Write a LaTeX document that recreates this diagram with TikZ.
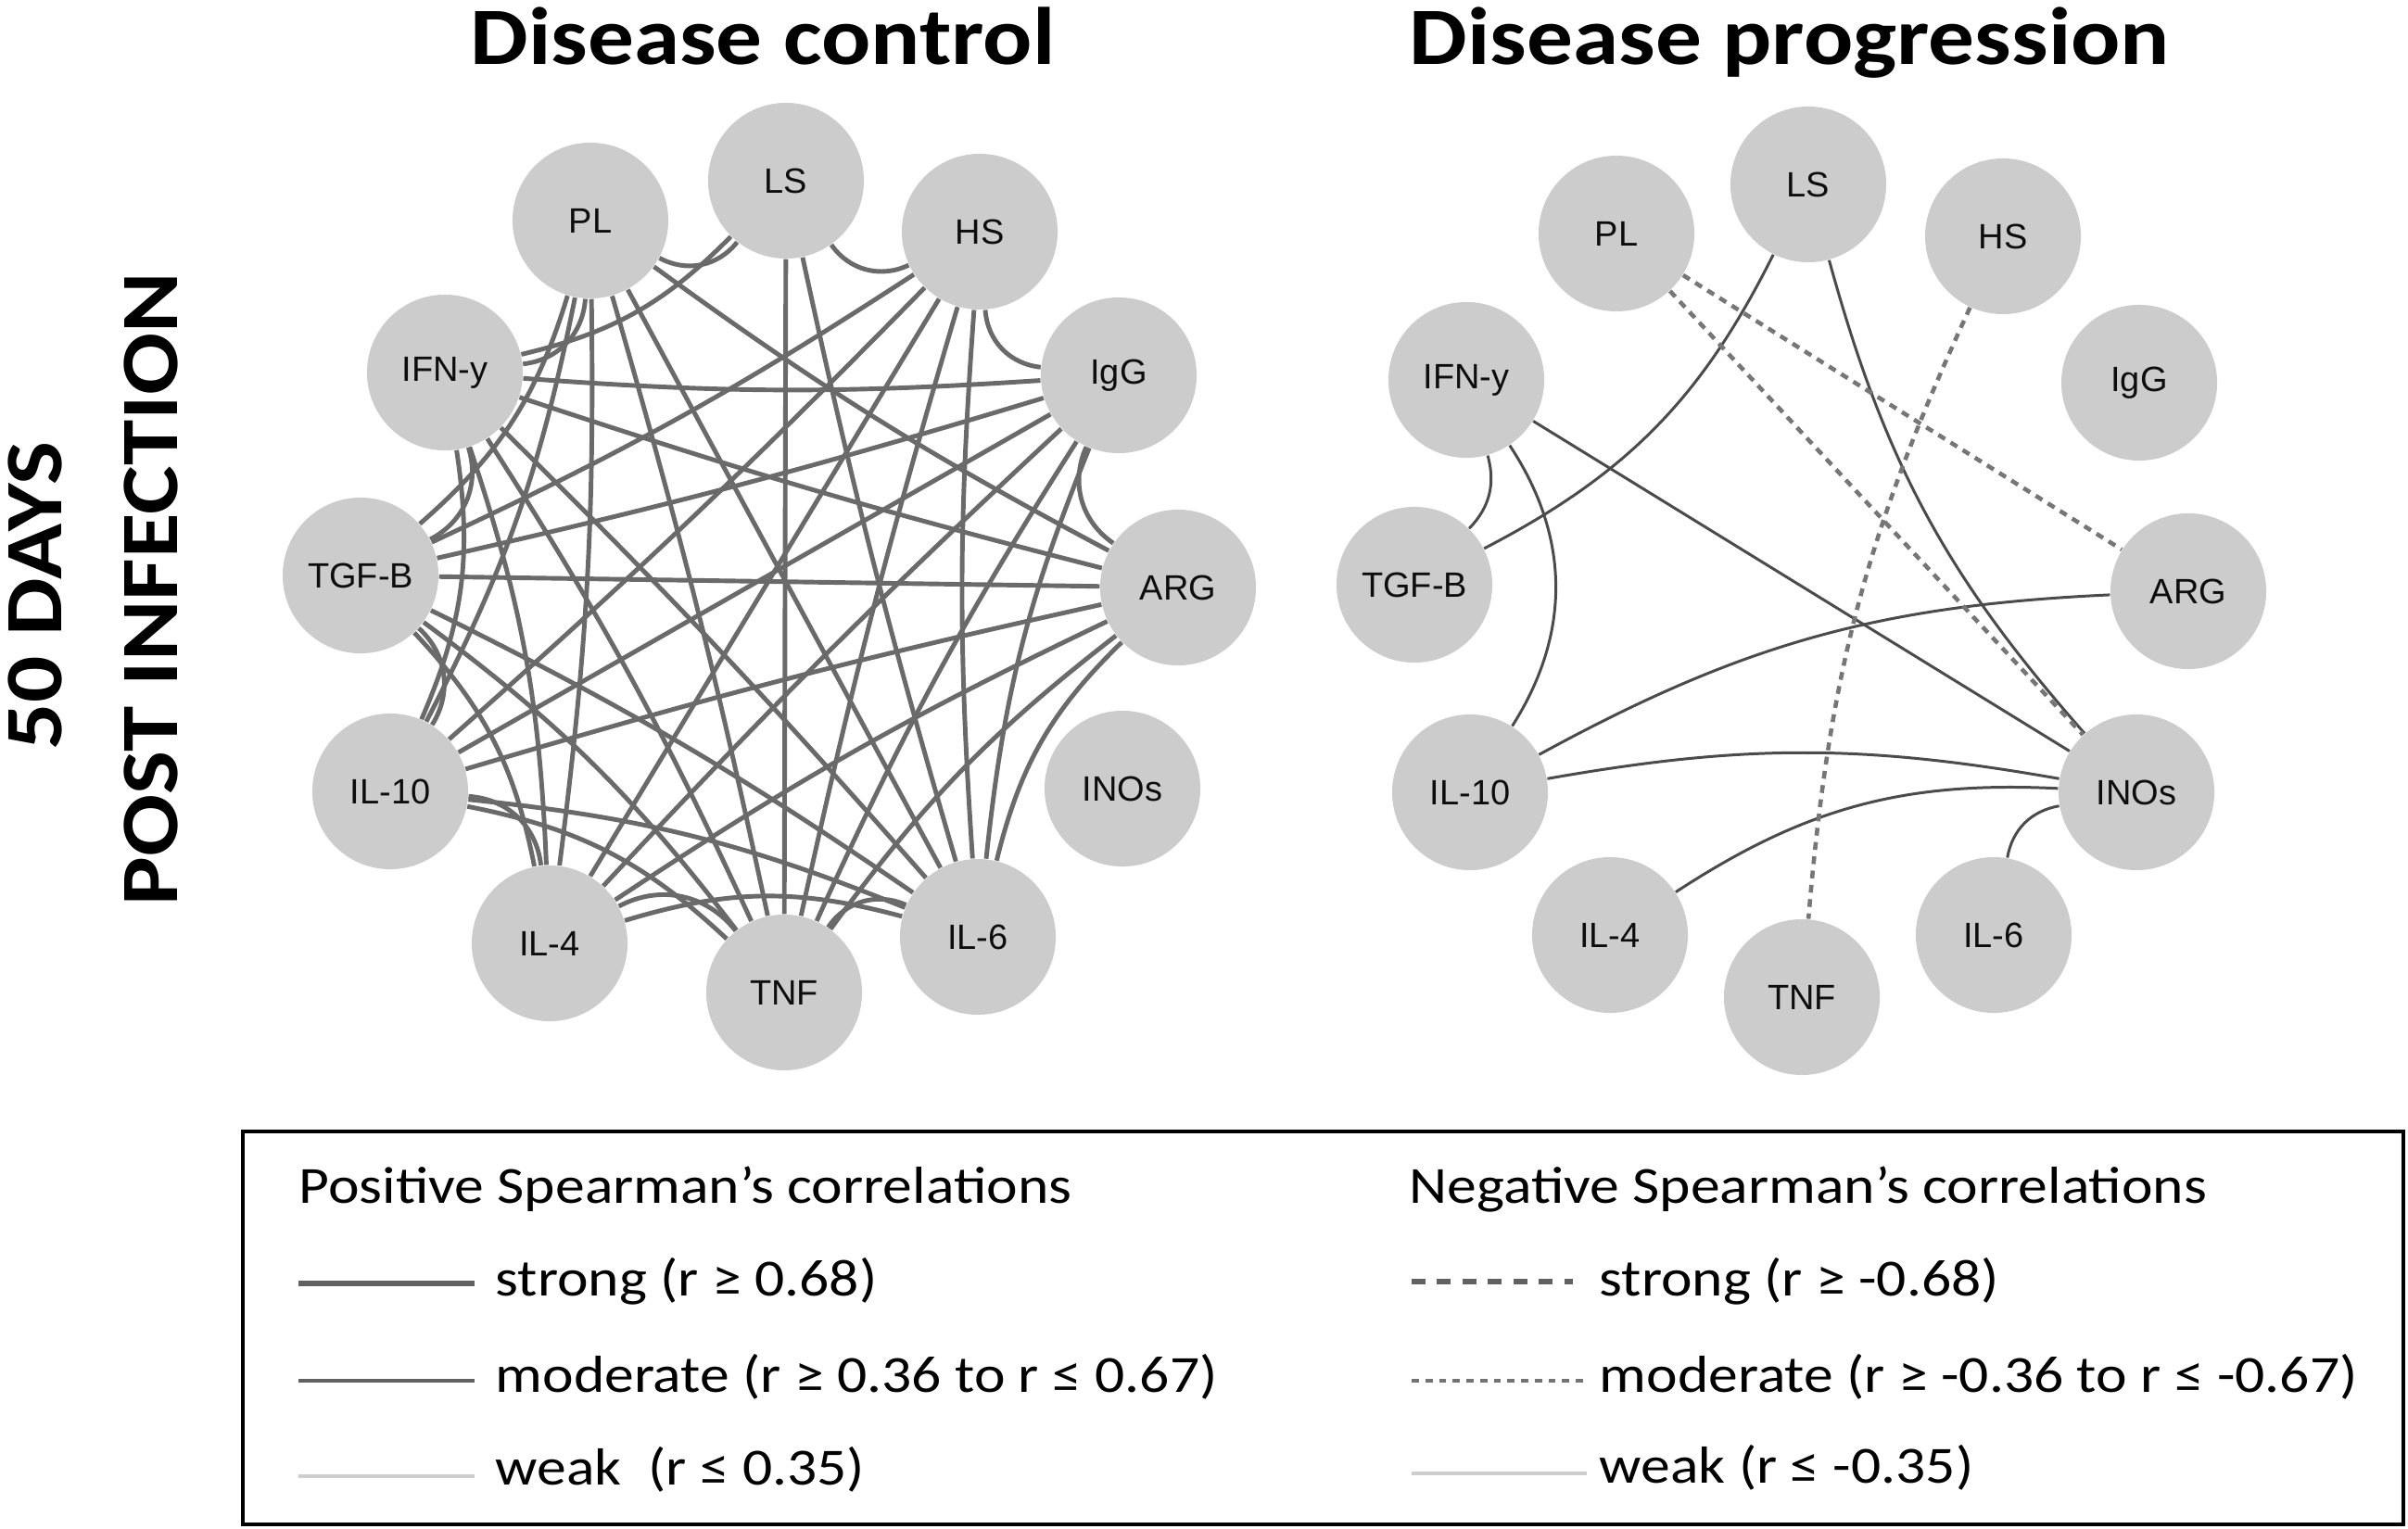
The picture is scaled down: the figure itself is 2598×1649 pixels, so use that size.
\documentclass[tikz,border=0pt]{standalone}
\usepackage{fontspec}
\setmainfont{Carlito}[FakeStretch=1.13]
\newfontfamily\arialf{Liberation Sans}
\definecolor{nodegray}{RGB}{204,204,204}
\definecolor{edgegray}{RGB}{106,106,106}
\definecolor{darkedge}{RGB}{75,75,75}
\definecolor{dashgray}{RGB}{118,118,118}
\definecolor{lightedge}{RGB}{205,205,205}
\begin{document}
\begin{tikzpicture}[x=0.01cm,y=0.01cm,
  cnode/.style={circle,fill=nodegray,draw=none,minimum size=1.68cm,inner sep=0pt,
    font=\arialf\fontsize{10.8}{12}\selectfont,text=black!95},
  ledge/.style={draw=edgegray,line width=1.4pt},
  rsolid/.style={draw=darkedge,line width=0.85pt},
  rdash/.style={draw=dashgray,line width=1.3pt,dash pattern=on 2.4pt off 2pt},
  sa/.style={bend right=40},
  sb/.style={bend right=16},
  sc/.style={bend right=8},
  sd/.style={bend right=4},
  se/.style={bend right=2},
  title/.style={font=\bfseries\fontsize{25}{30}\selectfont,anchor=base},
  legtext/.style={font=\fontsize{16}{19}\selectfont,anchor=base west,inner sep=0pt},
  legstrong/.style={draw=black!62,line width=1.6pt},
  legmod/.style={draw=black!62,line width=1.2pt},
  legweak/.style={draw=lightedge,line width=0.9pt},
  legnstrong/.style={draw=black!62,line width=1.6pt,dash pattern=on 4.2pt off 3.6pt},
  legnmod/.style={draw=black!55,line width=1.2pt,dash pattern=on 2.2pt off 2pt},
  legnweak/.style={draw=lightedge,line width=0.9pt}
]
\useasboundingbox (0,0) rectangle (2598,-1649);

% titles
\node[title] (t1) at (823,-70) {Disease control};
\node[title] (t2) at (1931,-70) {Disease progression};
\node[font=\bfseries\fontsize{25}{30}\selectfont,rotate=90,anchor=base] (v1) at (66,-643) {50 DAYS};
\node[font=\bfseries\fontsize{25}{30}\selectfont,rotate=90,anchor=base] (v2) at (191,-636) {POST INFECTION};

% left graph nodes
\node[cnode] (lPL)  at (637,-238)  {PL};
\node[cnode] (lLS)  at (848,-195)  {LS};
\node[cnode] (lHS)  at (1057,-250) {HS};
\node[cnode] (lIgG) at (1207,-405) {IgG};
\node[cnode] (lARG) at (1271,-634) {ARG};
\node[cnode] (lINO) at (1211,-851) {INOs};
\node[cnode] (lIL6) at (1055,-1011) {IL-6};
\node[cnode] (lTNF) at (846,-1071) {TNF};
\node[cnode] (lIL4) at (593,-1018) {IL-4};
\node[cnode] (lIL10) at (421,-854) {IL-10};
\node[cnode] (lTGF) at (389,-621) {TGF-B};
\node[cnode] (lIFN) at (480,-402) {IFN-y};

% left graph edges
\foreach \a/\b in {lPL/lLS,lLS/lHS,lHS/lIgG,lIgG/lARG,lIL6/lTNF,lTNF/lIL4,lIL4/lIL10,lIL10/lTGF,lTGF/lIFN,lIFN/lPL}
  \draw[ledge] (\a) to[sa] (\b);
\foreach \a/\b in {lIFN/lLS,lARG/lIL6,lTGF/lPL,lIL10/lIFN,lIL4/lTGF,lTNF/lIL10,lIL6/lIL4}
  \draw[ledge] (\a) to[sb] (\b);
\foreach \a/\b in {lIgG/lIL6,lARG/lTNF,lIL10/lPL,lIL4/lIFN,lTNF/lTGF,lIL6/lIL10}
  \draw[ledge] (\a) to[sc] (\b);
\foreach \a/\b in {lTGF/lHS,lHS/lIL6,lIFN/lIgG,lIgG/lTNF,lPL/lARG,lARG/lIL4,lIL4/lPL,lTNF/lIFN,lIL6/lTGF}
  \draw[ledge] (\a) to[sd] (\b);
\foreach \a/\b in {lLS/lIL6,lIL10/lHS,lHS/lTNF,lTGF/lIgG,lIgG/lIL4,lIFN/lARG,lARG/lIL10,lTNF/lPL,lIL6/lIFN}
  \draw[ledge] (\a) to[se] (\b);
\foreach \a/\b in {lLS/lTNF,lHS/lIL4,lIgG/lIL10,lARG/lTGF,lPL/lIL6}
  \draw[ledge] (\a) -- (\b);

% right graph nodes
\node[cnode] (rPL)  at (1744,-252) {PL};
\node[cnode] (rLS)  at (1951,-199) {LS};
\node[cnode] (rHS)  at (2161,-255) {HS};
\node[cnode] (rIgG) at (2308,-413) {IgG};
\node[cnode] (rARG) at (2361,-638) {ARG};
\node[cnode] (rINO) at (2305,-855) {INOs};
\node[cnode] (rIL6) at (2151,-1009) {IL-6};
\node[cnode] (rTNF) at (1944,-1076) {TNF};
\node[cnode] (rIL4) at (1737,-1009) {IL-4};
\node[cnode] (rIL10) at (1586,-855) {IL-10};
\node[cnode] (rTGF) at (1526,-631) {TGF-B};
\node[cnode] (rIFN) at (1582,-410) {IFN-y};

% right graph edges
\draw[rsolid] (rTGF) to[bend right=18] (rLS);
\draw[rsolid] (rLS) to[bend right=13] (rINO);
\draw[rsolid] (rTGF) to[bend right=30] (rIFN);
\draw[rsolid] (rIL10) to[bend right=33] (rIFN);
\draw[rsolid] (rIFN) -- (rINO);
\draw[rsolid] (rARG) to[bend right=13] (rIL10);
\draw[rsolid] (rINO) to[bend right=10] (rIL10);
\draw[rsolid] (rINO) to[bend right=18] (rIL4);
\draw[rsolid] (rINO) to[bend right=35] (rIL6);
\draw[rdash] (rPL) -- (rARG);
\draw[rdash] (rPL) -- (rINO);
\draw[rdash] (rHS) to[bend right=10] (rTNF);

% legend
\draw[line width=0.9pt] (262,-1221) rectangle (2593,-1645);
\node[legtext] (posh) at (322,-1298) {Positive Spearman’s correlations};
\node[legtext] (negh) at (1520,-1298) {Negative Spearman’s correlations};
\coordinate (ps1) at (322,-1385); \coordinate (ps2) at (512,-1385);
\coordinate (pm1) at (322,-1490); \coordinate (pm2) at (512,-1490);
\coordinate (pw1) at (322,-1593); \coordinate (pw2) at (512,-1593);
\coordinate (ns1) at (1523,-1383); \coordinate (ns2) at (1697,-1383);
\coordinate (nm1) at (1523,-1490); \coordinate (nm2) at (1712,-1490);
\coordinate (nw1) at (1523,-1590); \coordinate (nw2) at (1712,-1590);
\draw[legstrong] (ps1) -- (ps2);
\draw[legmod] (pm1) -- (pm2);
\draw[legweak] (pw1) -- (pw2);
\draw[legnstrong] (ns1) -- (ns2);
\draw[legnmod] (nm1) -- (nm2);
\draw[legnweak] (nw1) -- (nw2);
\node[legtext] (pst) at (534,-1398) {strong (r ≥ 0.68)};
\node[legtext] (pmt) at (534,-1502) {moderate (r ≥ 0.36 to r ≤ 0.67)};
\node[legtext] (pwt) at (534,-1602) {weak\ \ (r ≤ 0.35)};
\node[legtext] (nst) at (1725,-1398) {strong (r ≥ -0.68)};
\node[legtext] (nmt) at (1725,-1502) {moderate (r ≥ -0.36 to r ≤ -0.67)};
\node[legtext] (nwt) at (1725,-1600) {weak (r ≤ -0.35)};
\end{tikzpicture}
\end{document}
